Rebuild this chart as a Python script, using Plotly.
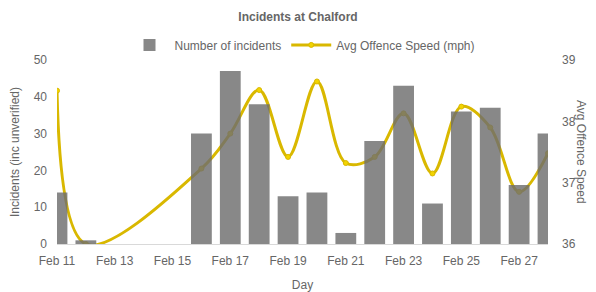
import plotly.graph_objects as go

days = ["2024-02-11", "2024-02-12", "2024-02-13", "2024-02-14", "2024-02-15",
        "2024-02-16", "2024-02-17", "2024-02-18", "2024-02-19", "2024-02-20",
        "2024-02-21", "2024-02-22", "2024-02-23", "2024-02-24", "2024-02-25",
        "2024-02-26", "2024-02-27", "2024-02-28"]
incidents = [14, 1, 0, 0, 0, 30, 47, 38, 13, 14, 3, 28, 43, 11, 36, 37, 16, 30]
avg_speed = [38.50, 36.00, None, None, None, 37.23, 37.80, 38.51, 37.42, 38.65,
             37.32, 37.42, 38.13, 37.15, 38.24, 37.90, 36.85, 37.48]

font = "Liberation Sans, Arial, sans-serif"
grey = "#666666"

# page body has an 8px margin: figure is 8px smaller and margins shifted
W, H = 588, 284

fig = go.Figure()
# speed line on the primary (right-hand) axis so the bars, overlaid, sit above it
fig.add_trace(go.Scatter(
    x=days, y=avg_speed, name="Avg Offence Speed (mph)", yaxis="y",
    mode="lines+markers", connectgaps=True,
    line=dict(color="#d9b800", width=3, shape="spline", smoothing=1),
    marker=dict(color="#f2d400", size=5, line=dict(color="#d9b800", width=1)),
    legendrank=2,
))
fig.add_trace(go.Bar(
    x=days, y=incidents, name="Number of incidents", yaxis="y2",
    marker=dict(color="rgba(110,110,110,0.82)", line=dict(width=0)),
    legendrank=1,
))

fig.update_layout(
    width=W, height=H,
    margin=dict(l=49, r=48, t=52, b=48),
    paper_bgcolor="white", plot_bgcolor="white",
    font=dict(family=font, size=12, color=grey),
    bargap=0.28,
    showlegend=True,
    title=dict(text="<b>Incidents at Chalford</b>", x=290 / W, xanchor="center",
               y=1 - 9 / H, yanchor="middle",
               font=dict(size=12, color=grey)),
    legend=dict(orientation="h", x=0.5, xanchor="center", y=1.082, yanchor="middle",
                font=dict(size=12, color=grey), bgcolor="rgba(0,0,0,0)",
                itemwidth=40),
    xaxis=dict(type="date", range=["2024-02-11", "2024-02-28"],
               tick0="2024-02-11", dtick=2 * 86400000, tickformat="%b %d",
               showgrid=False, showline=True, linecolor="#d9d9d9", linewidth=1,
               ticks="", zeroline=False, automargin=False, ticklabelstandoff=6,
               tickfont=dict(size=12),
               title=dict(text="Day", standoff=13, font=dict(size=12, color=grey))),
    yaxis=dict(range=[36, 39], dtick=1, side="right",
               showgrid=False, zeroline=False, ticks="", ticklabelstandoff=13,
               automargin=False, tickfont=dict(size=12)),
    yaxis2=dict(range=[0, 50], dtick=10, overlaying="y", side="left",
                showgrid=False, zeroline=False, ticks="", ticklabelstandoff=9,
                automargin=False, tickfont=dict(size=12),
                title=dict(text="Incidents (inc unverified)", standoff=14,
                           font=dict(size=12, color=grey))),
    annotations=[dict(text="Avg Offence Speed", xref="paper", yref="paper",
                      x=1, y=0.5, xanchor="center", yanchor="middle",
                      xshift=33, textangle=90, showarrow=False,
                      font=dict(size=12, color=grey))],
)

fig.write_html("out.html")
